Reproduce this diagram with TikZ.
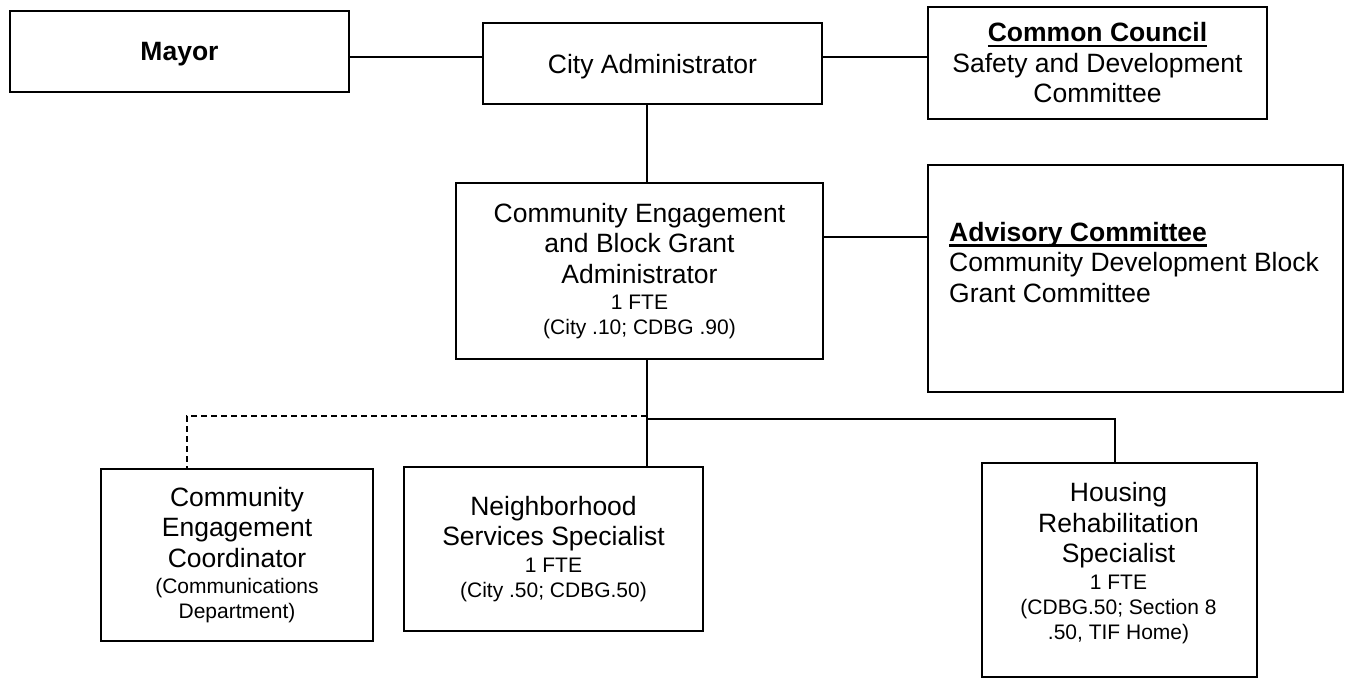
\documentclass[tikz,border=0pt]{standalone}
\usepackage{fontspec}
\setmainfont{Liberation Sans}
\usepackage{tikz}

\newcommand\bigtxt{\fontsize{26.5}{30.5}\selectfont}
\newcommand\smalltxt{\fontsize{21}{25}\selectfont}
\newcommand\headline[1]{\setbox0\hbox{\bfseries #1}\rlap{\rule[-5.5pt]{\wd0}{2.5pt}}\box0}

\begin{document}
\begin{tikzpicture}[x=1pt,y=-1pt,
    box/.style={draw,line width=2.8pt,align=center,inner sep=0pt,font=\bigtxt},
    link/.style={line width=2.6pt},
    dashlink/.style={line width=2.4pt,dash pattern=on 6pt off 4pt}]
          \useasboundingbox (0,0) rectangle (1349,680);
          \node[box,minimum width=339pt,minimum height=81pt,text depth=0pt,font=\bigtxt\bfseries] (mayor) at (179.5, 51.5) {Mayor};
          \node[box,minimum width=339pt,minimum height=81pt,text depth=0pt] (cityadm) at (652.5, 63.5) {City Administrator};
          \node[box,minimum width=339pt,minimum height=112pt] (council) at (1097.5, 63) {\headline{Common Council}\\Safety and Development\\Committee};
          \node[box,minimum width=367pt,minimum height=176pt] (cbgadm) at (639.5, 271) {Community Engagement\\and Block Grant\\Administrator\\[-4pt]\smalltxt 1 FTE\\[-5.5pt]\smalltxt (City .10; CDBG .90)};
          \node[box,minimum width=415pt,minimum height=227pt] (advisory) at (1135.5, 278.5) {};
          \node[align=left,anchor=north west,inner sep=0pt,font=\bigtxt] (advisorytxt) at (949, 222) {\headline{Advisory Committee}\\Community Development Block\\Grant Committee};
          \node[box,minimum width=272pt,minimum height=172pt] (coord) at (237, 555) {Community\\Engagement\\Coordinator\\[-4pt]\smalltxt (Communications\\[-5.5pt]\smalltxt Department)};
          \node[box,minimum width=299pt,minimum height=164pt] (nbhd) at (553.5, 549) {Neighborhood\\Services Specialist\\[-4pt]\smalltxt 1 FTE\\[-5.5pt]\smalltxt (City .50; CDBG.50)};
          \node[box,minimum width=275pt,minimum height=214pt] (housing) at (1119.5, 570) {};
          \node[align=center,anchor=north,inner sep=0pt,font=\bigtxt] (housingtxt) at (1118.5, 482.5) {Housing\\Rehabilitation\\Specialist\\[-4pt]\smalltxt 1 FTE\\[-5.5pt]\smalltxt (CDBG.50; Section 8\\[-5.5pt]\smalltxt .50, TIF Home)};
          \coordinate (toprow) at (0, 57);
          \coordinate (advrow) at (0, 237);
          \coordinate (branch) at (647, 419);
          \coordinate (branchR) at (1115, 419);
          \coordinate (dashL) at (187, 416);
          \draw[link] (mayor.east |- toprow) to (cityadm.west |- toprow);
          \draw[link] (cityadm.east |- toprow) to (council.west |- toprow);
          \draw[link] (branch |- cityadm.south) to (branch |- cbgadm.north);
          \draw[link] (cbgadm.east |- advrow) to (advisory.west |- advrow);
          \draw[link] (branch |- cbgadm.south) to (branch |- nbhd.north);
          \draw[link] (branch) -- (branchR) -- (branchR |- housing.north);
          \draw[dashlink] ([yshift=3pt]branch) -- (dashL) -- (dashL |- coord.north);
        \end{tikzpicture}
\end{document}
